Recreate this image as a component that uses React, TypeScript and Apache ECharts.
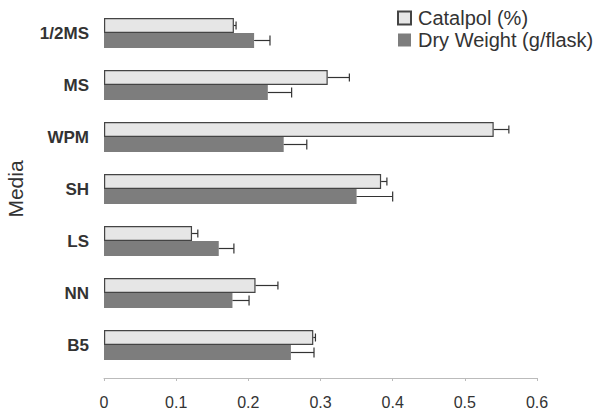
import React, { useEffect, useRef } from "react";
import * as echarts from "echarts";

const categories = ["1/2MS", "MS", "WPM", "SH", "LS", "NN", "B5"];
const catalpol = [0.18, 0.31, 0.54, 0.384, 0.122, 0.21, 0.29];
const catalpolErr = [0.003, 0.03, 0.021, 0.008, 0.008, 0.031, 0.003];
const dryWeight = [0.208, 0.227, 0.249, 0.35, 0.159, 0.178, 0.259];
const dryErr = [0.022, 0.033, 0.032, 0.05, 0.021, 0.023, 0.032];
const xTicks = { min: 0, max: 0.6, interval: 0.1 };

const font = "Liberation Sans, Arial, sans-serif";

function errSeries(values: number[], errs: number[], offset: number, cap: number) {
  return {
    type: "custom",
    silent: true,
    z: 5,
    encode: { x: 0, y: 1 },
    data: values.map((v, i) => [v, i, errs[i]]),
    renderItem: (params: any, api: any) => {
      const v = api.value(0);
      const c = api.value(1);
      const e = api.value(2);
      const p0 = api.coord([v, c]);
      const p1 = api.coord([v + e, c]);
      const y = p0[1] + offset;
      const st = { stroke: "#333", lineWidth: 1.2 };
      return {
        type: "group",
        children: [
          { type: "line", shape: { x1: p0[0], y1: y, x2: p1[0], y2: y }, style: st },
          { type: "line", shape: { x1: p1[0], y1: y - cap, x2: p1[0], y2: y + cap }, style: st },
        ],
      };
    },
  };
}

export default function App() {
  const ref = useRef<HTMLDivElement>(null);
  useEffect(() => {
    if (!ref.current) return;
    const chart = echarts.init(ref.current, null, { renderer: "svg" });
    chart.setOption({
      animation: false,
      backgroundColor: "#fff",
      textStyle: { fontFamily: font },
      grid: { left: 104, right: 70, top: 7, bottom: 44, containLabel: false, outerBoundsMode: "none" },
      legend: {
        orient: "vertical",
        left: 397,
        top: 8,
        padding: 0,
        itemWidth: 13,
        itemHeight: 13,
        itemGap: 2,
        icon: "rect",
        data: ["Catalpol (%)", "Dry Weight (g/flask)"],
        textStyle: { fontSize: 20, lineHeight: 20, color: "#333", fontFamily: font, padding: [0, 0, 0, 2] },
      },
      xAxis: {
        type: "value",
        min: xTicks.min,
        max: xTicks.max,
        interval: xTicks.interval,
        offset: 7,
        splitLine: { show: false },
        axisLine: { show: true, lineStyle: { color: "#bbb", width: 1 } },
        axisTick: { show: true, length: 3, lineStyle: { color: "#bbb" } },
        axisLabel: { fontSize: 16, color: "#333", margin: 16, fontFamily: font, formatter: (v: number) => String(+v.toFixed(1)) },
      },
      yAxis: {
        type: "category",
        inverse: true,
        data: categories,
        name: "Media",
        nameLocation: "middle",
        nameGap: 78,
        nameTextStyle: { fontSize: 21, color: "#333", fontFamily: font },
        axisLine: { show: false },
        axisTick: { show: false },
        axisLabel: { fontSize: 17, color: "#333", fontWeight: "bold", margin: 15, fontFamily: font },
      },
      series: [
        {
          name: "Catalpol (%)",
          type: "bar",
          barWidth: 15,
          barGap: "0%",
          data: catalpol,
          itemStyle: { color: "#e6e6e6", borderColor: "#444", borderWidth: 1.2 },
        },
        {
          name: "Dry Weight (g/flask)",
          type: "bar",
          barWidth: 15,
          barGap: "0%",
          data: dryWeight,
          itemStyle: { color: "#7d7d7d" },
        },
        errSeries(catalpol, catalpolErr, -7.5, 4),
        errSeries(dryWeight, dryErr, 7.5, 5),
      ],
    });
    return () => chart.dispose();
  }, []);
  return <div ref={ref} style={{ position: "fixed", left: 0, top: 0, width: 607, height: 415 }} />;
}
